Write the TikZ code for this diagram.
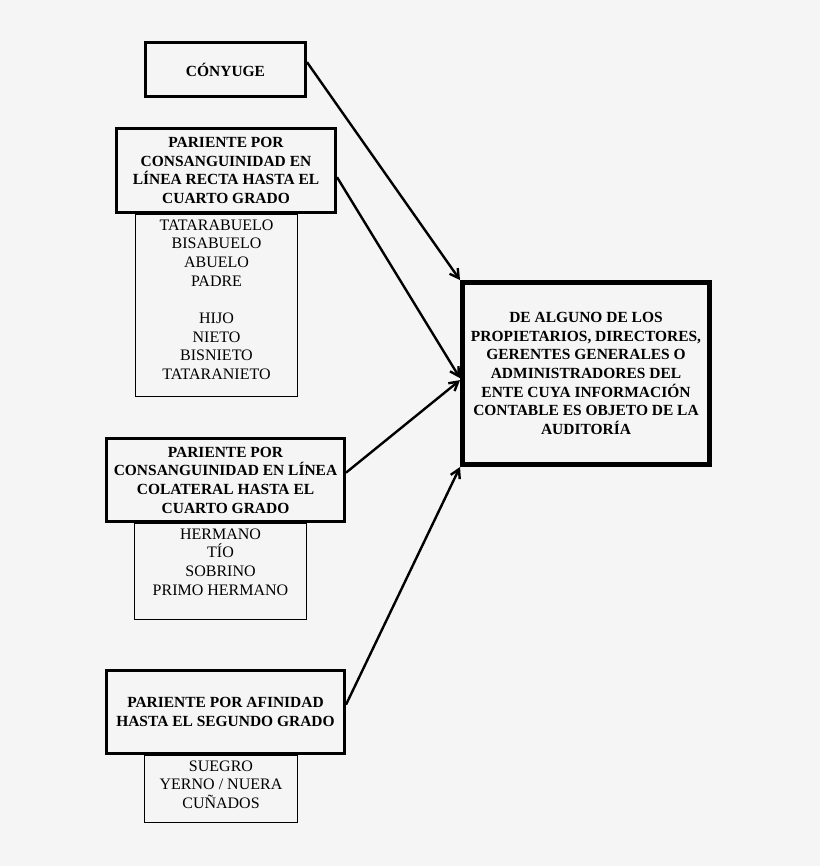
\documentclass[tikz,border=0pt]{standalone}
\usepackage{fontspec}
\setmainfont{Liberation Serif}
\usetikzlibrary{positioning,arrows.meta}
\definecolor{paper}{HTML}{F5F5F5}
\tikzset{
  head/.style={draw,line width=2.25pt,align=center,inner sep=0pt,
    font=\fontsize{11.6}{14}\selectfont\bfseries},
  goal/.style={head,line width=3.75pt},
  listbox/.style={draw,line width=0.75pt},
  items/.style={align=center,inner sep=0pt,font=\fontsize{12}{14}\selectfont},
  link/.style={-{Straight Barb[length=6.5pt,width=7.5pt]},line width=1.8pt}
}
\begin{document}
\begin{tikzpicture}[x=0.75pt,y=-0.75pt]
  \useasboundingbox[fill=paper] (0,0) rectangle (820,866);
  \draw
    (216.5,305.5) node[listbox,minimum width=121.5pt,minimum height=136.5pt] (rectabox){}
    (220.5,571.5) node[listbox,minimum width=129pt,minimum height=72pt] (colateralbox){}
    (221,789) node[listbox,minimum width=114.75pt,minimum height=50.25pt] (afinidadbox){};
  \node[items,below=4pt of rectabox.north] (rectalist)
    {TATARABUELO\\BISABUELO\\ABUELO\\PADRE\\[14pt]HIJO\\NIETO\\BISNIETO\\TATARANIETO};
  \node[items,below=4pt of colateralbox.north] (colaterallist)
    {HERMANO\\TÍO\\SOBRINO\\PRIMO HERMANO};
  \node[items,below=4pt of afinidadbox.north] (afinidadlist)
    {SUEGRO\\YERNO / NUERA\\CUÑADOS};
  \draw
    (225.5,69.5) node[head,minimum width=120pt,minimum height=40.5pt] (conyuge){CÓNYUGE}
    (226,170.5) node[head,minimum width=164.25pt,minimum height=63pt] (recta)
      {PARIENTE POR\\CONSANGUINIDAD EN\\LÍNEA RECTA HASTA EL\\CUARTO GRADO}
    (225.5,480) node[head,minimum width=178.5pt,minimum height=62.25pt] (colateral)
      {PARIENTE POR\\CONSANGUINIDAD EN LÍNEA\\COLATERAL HASTA EL\\CUARTO GRADO}
    (225.5,712) node[head,minimum width=178.5pt,minimum height=62.25pt] (afinidad)
      {PARIENTE POR AFINIDAD\\HASTA EL SEGUNDO GRADO}
    (586,373.5) node[goal,minimum width=185.25pt,minimum height=136.5pt] (ente)
      {DE ALGUNO DE LOS\\PROPIETARIOS, DIRECTORES,\\GERENTES GENERALES O\\ADMINISTRADORES DEL\\ENTE CUYA INFORMACIÓN\\CONTABLE ES OBJETO DE LA\\AUDITORÍA};
  \begin{scope}[link]
    \draw ([yshift=5.5pt]conyuge.east) to (ente.north west);
    \draw ([yshift=-5pt]recta.east) to ([yshift=-3.5pt]ente.west);
    \draw ([yshift=5.5pt]colateral.east) to ([yshift=-5pt]ente.west);
    \draw ([yshift=5.5pt]afinidad.east) to (ente.south west);
  \end{scope}
\end{tikzpicture}
\end{document}
